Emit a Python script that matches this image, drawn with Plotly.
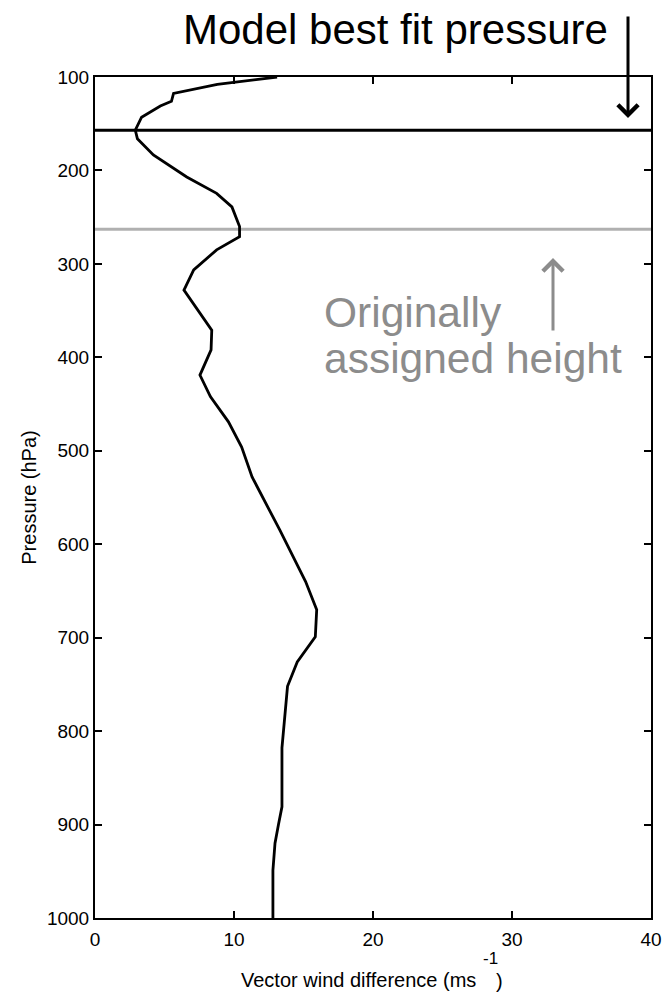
import plotly.graph_objects as go

# Vertical profile of vector wind difference (model minus observed)
pressure_hpa = [100, 108, 117.5, 126, 131, 143, 157, 166, 183.5, 207, 224.5, 239,
                260, 271, 285, 306.5, 328, 371, 392, 419, 442, 469, 496, 528,
                585, 640, 670, 699, 726, 752, 818, 881, 900, 920, 949, 1000]
wind_diff = [13.1, 8.8, 5.65, 5.5, 4.7, 3.35, 2.9, 3.05, 4.2, 6.6, 8.75, 9.85,
             10.4, 10.4, 8.75, 7.1, 6.4, 8.4, 8.35, 7.55, 8.3, 9.6, 10.55, 11.3,
             13.3, 15.15, 15.95, 15.85, 14.55, 13.85, 13.45, 13.45, 13.2, 12.95, 12.8, 12.8]

best_fit_p = 157      # model best fit pressure (hPa)
assigned_p = 263      # originally assigned height (hPa)
x_range = [0, 40]
x_ticks = [0, 10, 20, 30, 40]
y_ticks = [100, 200, 300, 400, 500, 600, 700, 800, 900, 1000]

FONT = "Liberation Sans, Arial, Helvetica, sans-serif"
GREY_LINE = "#b0b0b0"
GREY_TEXT = "#8c8c8c"

W, H = 664, 992
L, R, T, B = 95, 13, 77, 74
PW, PH = W - L - R, H - T - B


def px(x):
    return (x - L) / PW


def py(y):
    return (H - B - y) / PH


fig = go.Figure()

fig.add_trace(go.Scatter(x=x_range, y=[best_fit_p, best_fit_p], mode="lines",
                         line=dict(color="black", width=3), hoverinfo="skip"))
fig.add_trace(go.Scatter(x=x_range, y=[assigned_p, assigned_p], mode="lines",
                         line=dict(color=GREY_LINE, width=3), hoverinfo="skip"))
fig.add_trace(go.Scatter(x=wind_diff, y=pressure_hpa, mode="lines",
                         line=dict(color="black", width=2.8)))

axis_common = dict(
    showline=True, linecolor="black", linewidth=2, mirror="ticks",
    ticks="inside", ticklen=7, tickwidth=2, tickcolor="black",
    showgrid=False, zeroline=False, automargin=False,
    tickfont=dict(family=FONT, size=19, color="black"),
)

fig.update_xaxes(range=x_range, tickvals=x_ticks, ticklabelstandoff=3, **axis_common)
fig.update_yaxes(range=[1000, 100], tickvals=y_ticks, ticklabelstandoff=0,
                 title=dict(text="Pressure (hPa)",
                            font=dict(family=FONT, size=20, color="black"),
                            standoff=5),
                 **axis_common)

title_font = dict(family=FONT, size=20, color="black")
annotations = [
    # x-axis title, with the unit exponent raised above the closing bracket
    dict(text="Vector wind difference (ms", x=px(478), y=py(980), xref="paper", yref="paper",
         xanchor="right", yanchor="middle", showarrow=False, font=title_font),
    dict(text="-1", x=px(481), y=py(958), xref="paper", yref="paper",
         xanchor="left", yanchor="middle", showarrow=False,
         font=dict(family=FONT, size=17, color="black")),
    dict(text=")", x=px(494), y=py(981), xref="paper", yref="paper",
         xanchor="left", yanchor="middle", showarrow=False, font=title_font),
    dict(text="Model best fit pressure", x=px(395), y=py(29), xref="paper", yref="paper",
         xanchor="center", yanchor="middle", showarrow=False,
         font=dict(family=FONT, size=42, color="black")),
    dict(text="", x=px(628), y=py(118), xref="paper", yref="paper",
         ax=0, ay=-103, showarrow=True, arrowhead=4, arrowsize=1.3, arrowwidth=3,
         arrowcolor="black", standoff=0),
    dict(text="Originally", x=px(322), y=py(312), xref="paper", yref="paper",
         xanchor="left", yanchor="middle", showarrow=False,
         font=dict(family=FONT, size=42.5, color=GREY_TEXT)),
    dict(text="assigned height", x=px(322), y=py(358), xref="paper", yref="paper",
         xanchor="left", yanchor="middle", showarrow=False,
         font=dict(family=FONT, size=42.5, color=GREY_TEXT)),
    dict(text="", x=px(553), y=py(258), xref="paper", yref="paper",
         ax=0, ay=74, showarrow=True, arrowhead=4, arrowsize=1.3, arrowwidth=3,
         arrowcolor=GREY_TEXT, standoff=0),
]

fig.update_layout(
    width=W, height=H,
    margin=dict(l=L, r=R, t=T, b=B),
    paper_bgcolor="white", plot_bgcolor="white",
    showlegend=False,
    annotations=annotations,
)

fig.write_html("out.html")
